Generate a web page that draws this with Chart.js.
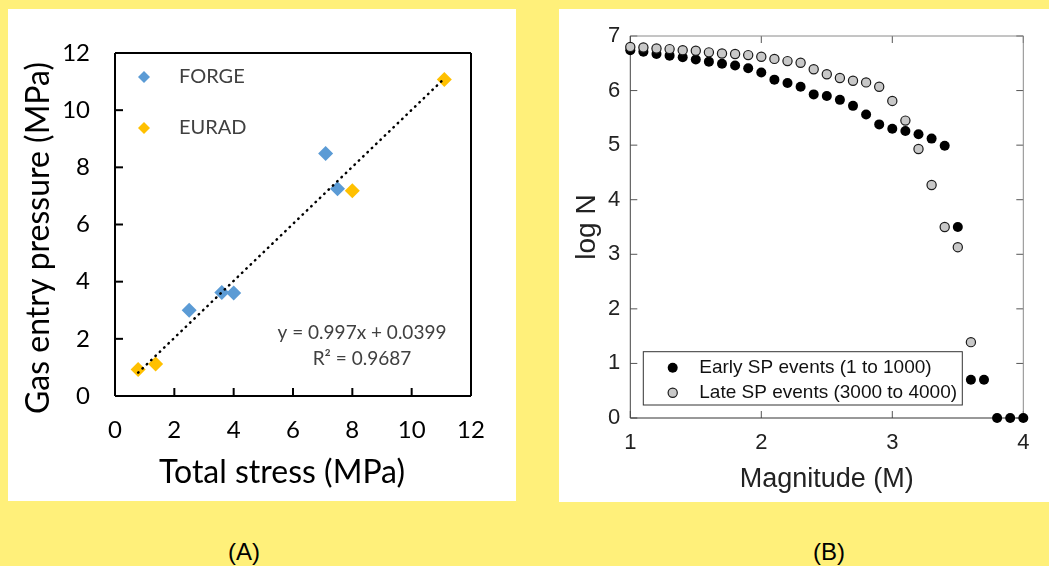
<!DOCTYPE html>
<html lang="en">
<head>
<meta charset="UTF-8">
<title>Gas entry pressure and magnitude distribution</title>
<script src="https://cdn.jsdelivr.net/npm/chart.js"></script>
<style>
  body { margin: 0; width: 1049px; height: 566px; background: #fff07a; position: relative; overflow: hidden; font-family: "Liberation Sans", Arial, sans-serif; }
  .panel { position: absolute; background: #fff; }
  .panel canvas { display: block; }
  .tag { position: absolute; font-size: 24px; color: #000; transform: translate(-50%, -50%); }
</style>
</head>
<body>
<div class="panel" style="left:8px;top:9px;width:508px;height:492px"><canvas id="chartA" width="508" height="492"></canvas></div>
<div class="panel" style="left:559px;top:9px;width:490px;height:493px"><canvas id="chartB" width="490" height="493"></canvas></div>
<div class="tag" style="left:244px;top:552px">(A)</div>
<div class="tag" style="left:829px;top:552px">(B)</div>

<script>
// (A) gas entry pressure vs total stress
const forgeStress = [2.5, 3.6, 4.0, 7.1, 7.5];
const forgePressure = [3.0, 3.62, 3.6, 8.48, 7.25];
const euradStress = [0.78, 1.37, 8.0, 11.1];
const euradPressure = [0.93, 1.12, 7.18, 11.07];
const fitSlope = 0.997;
const fitIntercept = 0.0399;

// (B) magnitude distribution
const magnitudes = [1.0, 1.1, 1.2, 1.3, 1.4, 1.5, 1.6, 1.7, 1.8, 1.9, 2.0, 2.1, 2.2, 2.3, 2.4, 2.5,
  2.6, 2.7, 2.8, 2.9, 3.0, 3.1, 3.2, 3.3, 3.4, 3.5, 3.6, 3.7, 3.8, 3.9, 4.0];
const earlyLogN = [6.74, 6.71, 6.67, 6.64, 6.61, 6.57, 6.53, 6.49, 6.46, 6.41, 6.33, 6.20, 6.14, 6.07, 5.93, 5.90,
  5.83, 5.72, 5.56, 5.38, 5.30, 5.26, 5.20, 5.12, 4.99, 3.50, 0.70, 0.70, 0, 0, 0];
const lateLogN = [6.80, 6.79, 6.77, 6.76, 6.74, 6.73, 6.70, 6.68, 6.67, 6.65, 6.62, 6.58, 6.54, 6.51, 6.39, 6.30,
  6.23, 6.18, 6.15, 6.07, 5.81, 5.45, 4.93, 4.27, 3.50, 3.13, 1.39];

function toPoints(xs, ys) {
  return ys.map((y, i) => ({ x: xs[i], y: y }));
}

// dotted trend line over the range of the data
const allStress = forgeStress.concat(euradStress);
const fitLine = [Math.min(...allStress), Math.max(...allStress)].map(x => ({ x: x, y: fitSlope * x + fitIntercept }));

// box round the plot area and inward tick marks
const framePlugin = {
  id: 'frame',
  beforeDatasetsDraw(chart, args, opts) {
    const { ctx, chartArea: a, scales } = chart;
    ctx.save();
    ctx.strokeStyle = opts.tickColor;
    ctx.lineWidth = opts.tickWidth;
    opts.tickSides.forEach(side => {
      const horiz = side === 'top' || side === 'bottom';
      const scale = horiz ? scales.x : scales.y;
      scale.ticks.forEach(t => {
        const p = scale.getPixelForValue(t.value);
        ctx.beginPath();
        if (side === 'bottom') { ctx.moveTo(p, a.bottom); ctx.lineTo(p, a.bottom - opts.tickLen); }
        if (side === 'top') { ctx.moveTo(p, a.top); ctx.lineTo(p, a.top + opts.tickLen); }
        if (side === 'left') { ctx.moveTo(a.left, p); ctx.lineTo(a.left + opts.tickLen, p); }
        if (side === 'right') { ctx.moveTo(a.right, p); ctx.lineTo(a.right - opts.tickLen, p); }
        ctx.stroke();
      });
    });
    ctx.lineWidth = opts.width;
    opts.lines.forEach(l => {
      ctx.strokeStyle = l.color;
      ctx.beginPath();
      if (l.side === 'top') { ctx.moveTo(a.left, a.top); ctx.lineTo(a.right, a.top); }
      if (l.side === 'bottom') { ctx.moveTo(a.left, a.bottom); ctx.lineTo(a.right, a.bottom); }
      if (l.side === 'left') { ctx.moveTo(a.left, a.top); ctx.lineTo(a.left, a.bottom); }
      if (l.side === 'right') { ctx.moveTo(a.right, a.top); ctx.lineTo(a.right, a.bottom); }
      ctx.stroke();
    });
    ctx.restore();
  }
};

// hand placed legend entries
const keyPlugin = {
  id: 'key',
  afterDatasetsDraw(chart, args, opts) {
    const ctx = chart.ctx;
    ctx.save();
    if (opts.box) {
      ctx.fillStyle = '#fff';
      ctx.fillRect(opts.box.x, opts.box.y, opts.box.w, opts.box.h);
      ctx.strokeStyle = opts.box.color;
      ctx.lineWidth = 1;
      ctx.strokeRect(opts.box.x, opts.box.y, opts.box.w, opts.box.h);
    }
    opts.items.forEach(item => {
      const ds = chart.data.datasets[item.dataset];
      const bw = ds.borderWidth || 0;
      ctx.fillStyle = ds.backgroundColor;
      ctx.strokeStyle = ds.borderColor || ds.backgroundColor;
      ctx.lineWidth = bw;
      Chart.helpers.drawPoint(ctx, { pointStyle: ds.pointStyle, radius: item.radius, rotation: 0, borderWidth: bw }, item.x, item.y);
      ctx.fillStyle = opts.color;
      ctx.font = opts.font;
      ctx.textAlign = 'left';
      ctx.textBaseline = 'middle';
      ctx.fillText(ds.label, item.x + opts.gap, item.y);
    });
    ctx.restore();
  }
};

// free text: axis titles and fit equation
const notesPlugin = {
  id: 'notes',
  afterDraw(chart, args, opts) {
    const ctx = chart.ctx;
    opts.items.forEach(n => {
      ctx.save();
      ctx.translate(n.x, n.y);
      ctx.rotate(n.rotation || 0);
      ctx.font = n.font;
      ctx.fillStyle = n.color;
      ctx.textAlign = 'center';
      ctx.textBaseline = 'middle';
      ctx.fillText(n.text, 0, 0);
      ctx.restore();
    });
  }
};

const fontA = 'Lato, "Open Sans", sans-serif';
const fontB = '"Liberation Sans", Arial, sans-serif';

new Chart(document.getElementById('chartA'), {
  type: 'scatter',
  data: {
    datasets: [{
      label: 'FORGE',
      data: toPoints(forgeStress, forgePressure),
      pointStyle: 'rectRot',
      pointRadius: 7.5,
      backgroundColor: '#5b9bd5',
      borderWidth: 0,
      order: 2
    }, {
      label: 'EURAD',
      data: toPoints(euradStress, euradPressure),
      pointStyle: 'rectRot',
      pointRadius: 7.5,
      backgroundColor: '#ffc000',
      borderWidth: 0,
      order: 1
    }, {
      label: 'Linear fit',
      type: 'line',
      data: fitLine,
      borderColor: '#000',
      borderWidth: 2.5,
      borderDash: [0.5, 5.5],
      borderCapStyle: 'round',
      pointRadius: 0,
      fill: false,
      order: 0
    }]
  },
  options: {
    responsive: false,
    animation: false,
    layout: { padding: { left: 0, right: 45, top: 44, bottom: 0 } },
    plugins: {
      legend: { display: false },
      tooltip: { enabled: false },
      frame: {
        width: 2, tickLen: 8, tickWidth: 2, tickColor: '#000',
        tickSides: ['left', 'bottom'],
        lines: [{ side: 'top', color: '#000' }, { side: 'right', color: '#000' },
                { side: 'bottom', color: '#000' }, { side: 'left', color: '#000' }]
      },
      key: {
        font: '20px ' + fontA, color: '#404040', gap: 35,
        items: [{ dataset: 0, x: 136, y: 68, radius: 6 }, { dataset: 1, x: 136, y: 119, radius: 6 }]
      },
      notes: {
        items: [
          { text: 'Total stress (MPa)', x: 274, y: 464, font: '32px ' + fontA, color: '#000' },
          { text: 'Gas entry pressure (MPa)', x: 31, y: 229, rotation: -Math.PI / 2, font: '32px ' + fontA, color: '#000' },
          { text: 'y = 0.997x + 0.0399', x: 354, y: 324, font: '19px ' + fontA, color: '#404040' },
          { text: 'R\u00b2 = 0.9687', x: 354, y: 350, font: '19px ' + fontA, color: '#404040' }
        ]
      }
    },
    scales: {
      x: {
        type: 'linear', min: 0, max: 12,
        ticks: { stepSize: 2, padding: 20, color: '#000', font: { family: fontA, size: 24 } },
        grid: { display: false, drawTicks: false },
        border: { display: false },
        afterFit: s => { s.height = 105; }
      },
      y: {
        min: 0, max: 12,
        ticks: { stepSize: 2, padding: 25, color: '#000', font: { family: fontA, size: 24 } },
        grid: { display: false, drawTicks: false },
        border: { display: false },
        afterFit: s => { s.width = 107; }
      }
    }
  },
  plugins: [framePlugin, keyPlugin, notesPlugin]
});

new Chart(document.getElementById('chartB'), {
  type: 'scatter',
  data: {
    datasets: [{
      label: 'Early SP events (1 to 1000)',
      data: toPoints(magnitudes, earlyLogN),
      pointStyle: 'circle',
      pointRadius: 5,
      backgroundColor: '#000',
      borderColor: '#000',
      borderWidth: 0,
      clip: false,
      order: 2
    }, {
      label: 'Late SP events (3000 to 4000)',
      data: toPoints(magnitudes, lateLogN),
      pointStyle: 'circle',
      pointRadius: 4.6,
      backgroundColor: '#c8c8c8',
      borderColor: '#1a1a1a',
      borderWidth: 1.2,
      clip: false,
      order: 1
    }]
  },
  options: {
    responsive: false,
    animation: false,
    layout: { padding: { left: 0, right: 25.7, top: 27, bottom: 0 } },
    plugins: {
      legend: { display: false },
      tooltip: { enabled: false },
      frame: {
        width: 1, tickLen: 7, tickWidth: 1, tickColor: '#555',
        tickSides: ['left', 'bottom', 'top', 'right'],
        lines: [{ side: 'top', color: '#8a8a8a' }, { side: 'right', color: '#8a8a8a' },
                { side: 'bottom', color: '#333' }, { side: 'left', color: '#444' }]
      },
      key: {
        font: '19px ' + fontB, color: '#111', gap: 26.6,
        box: { x: 84.3, y: 342.7, w: 319, h: 53.3, color: '#333' },
        items: [{ dataset: 0, x: 113.7, y: 358.7, radius: 5 }, { dataset: 1, x: 113.7, y: 383.7, radius: 4.6 }]
      },
      notes: { items: [] }
    },
    scales: {
      x: {
        type: 'linear', min: 1, max: 4,
        ticks: { stepSize: 1, padding: 12, color: '#222', font: { family: fontB, size: 22 } },
        grid: { display: false, drawTicks: false },
        border: { display: false },
        title: { display: true, text: 'Magnitude (M)', color: '#222', font: { family: fontB, size: 27, lineHeight: 1 }, padding: { top: 0, bottom: 8.5 } },
        afterFit: s => { s.height = 84; }
      },
      y: {
        min: 0, max: 7,
        ticks: { stepSize: 1, padding: 10, color: '#222', font: { family: fontB, size: 22 } },
        grid: { display: false, drawTicks: false },
        border: { display: false },
        title: { display: true, text: 'log N', color: '#222', font: { family: fontB, size: 28, lineHeight: 1 }, padding: { top: 14, bottom: 0 } },
        afterFit: s => { s.width = 71.3; }
      }
    }
  },
  plugins: [framePlugin, keyPlugin, notesPlugin]
});
</script>
</body>
</html>
